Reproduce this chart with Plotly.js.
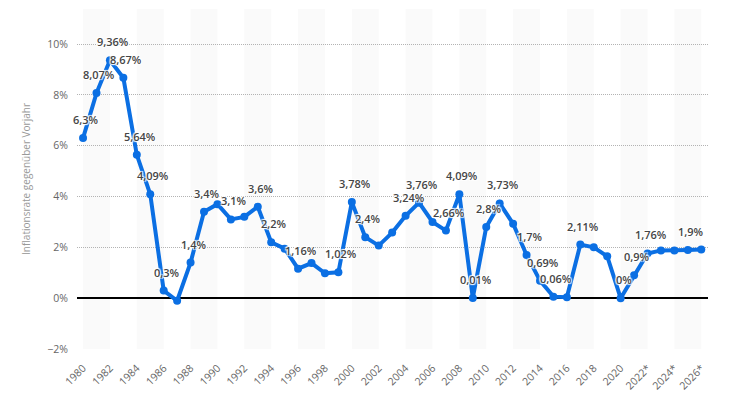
<!DOCTYPE html>
<html>
<head>
<meta charset="utf-8">
<script src="https://cdn.plot.ly/plotly-3.0.1.min.js"></script>
<style>
html,body{margin:0;padding:0;background:#fff;}
#chart{width:737px;height:419px;}
</style>
</head>
<body>
<div id="chart"></div>
<script>
// Data
var years = [1980,1981,1982,1983,1984,1985,1986,1987,1988,1989,1990,1991,1992,1993,1994,1995,1996,1997,1998,1999,2000,2001,2002,2003,2004,2005,2006,2007,2008,2009,2010,2011,2012,2013,2014,2015,2016,2017,2018,2019,2020,2021,2022,2023,2024,2025,2026];
var inflation = [6.3,8.07,9.36,8.67,5.64,4.09,0.3,-0.1,1.4,3.4,3.7,3.1,3.2,3.6,2.2,1.95,1.16,1.38,0.98,1.02,3.78,2.4,2.07,2.58,3.24,3.76,3.0,2.66,4.09,0.01,2.8,3.73,2.93,1.7,0.69,0.06,0.04,2.11,2.0,1.65,0,0.9,1.76,1.88,1.88,1.9,1.92];
var labelYears = [1980,1981,1982,1983,1984,1985,1986,1988,1989,1991,1993,1994,1996,1999,2000,2001,2004,2005,2007,2008,2009,2010,2011,2013,2014,2015,2017,2020,2021,2022,2025];
var labelTexts = ["6,3%","8,07%","9,36%","8,67%","5,64%","4,09%","0,3%","1,4%","3,4%","3,1%","3,6%","2,2%","1,16%","1,02%","3,78%","2,4%","3,24%","3,76%","2,66%","4,09%","0,01%","2,8%","3,73%","1,7%","0,69%","0,06%","2,11%","0%","0,9%","1,76%","1,9%"];
var tickVals = [1980,1982,1984,1986,1988,1990,1992,1994,1996,1998,2000,2002,2004,2006,2008,2010,2012,2014,2016,2018,2020,2022,2024,2026];
var tickTexts = ["1980","1982","1984","1986","1988","1990","1992","1994","1996","1998","2000","2002","2004","2006","2008","2010","2012","2014","2016","2018","2020","2022*","2024*","2026*"];
var yTickVals = [-2,0,2,4,6,8,10];
var yTickTexts = ["\u22122%","0%","2%","4%","6%","8%","10%"];
var bandStarts = [1980,1984,1988,1992,1996,2000,2004,2008,2012,2016,2020,2024];
var yTitle = "Inflationsrate gegenüber Vorjahr";

var blue = "#0b6fe3";
var FONT = "Open Sans, sans-serif";

var shapes = bandStarts.map(function(s){
  return {type:"rect", xref:"x", yref:"paper", x0:s, x1:s+2, y0:0, y1:1,
          fillcolor:"#fafafa", line:{width:0}, layer:"below"};
});

var annotations = labelYears.map(function(yr, i){
  var v = inflation[years.indexOf(yr)];
  return {x:yr, y:v, xref:"x", yref:"y", text:labelTexts[i], showarrow:false,
          xanchor:"center", yanchor:"middle", xshift:3, yshift:18.5,
          font:{family:FONT, size:11, color:"#454545", weight:600,
                shadow:"1px 1px 1px #fff, -1px -1px 1px #fff, 1px -1px 1px #fff, -1px 1px 1px #fff"}};
});

var trace = {
  x: years, y: inflation, type:"scatter", mode:"lines+markers",
  line:{color:blue, width:4},
  marker:{color:blue, size:8},
  hoverinfo:"skip", cliponaxis:false
};

var layout = {
  width:737, height:419,
  margin:{l:77, r:29, t:9, b:70},
  paper_bgcolor:"#fff", plot_bgcolor:"rgba(0,0,0,0)",
  showlegend:false,
  font:{family:FONT, size:10.5, color:"#666"},
  xaxis:{
    range:[1979.55, 2026.5], tickvals:tickVals, ticktext:tickTexts, tickangle:-45,
    showgrid:false, zeroline:false, showline:false, ticks:"outside", ticklen:8, tickcolor:"rgba(0,0,0,0)",
    tickfont:{family:FONT, size:10.5, color:"#666"}, fixedrange:true
  },
  yaxis:{
    range:[-2, 11.38], tickvals:yTickVals, ticktext:yTickTexts,
    showgrid:true, gridcolor:"#b3b3b3", griddash:"1px,1px", gridwidth:1,
    zeroline:true, zerolinecolor:"#000", zerolinewidth:1.5,
    showline:false, ticks:"outside", ticklen:6, tickcolor:"rgba(0,0,0,0)",
    tickfont:{family:FONT, size:10.5, color:"#666"},
    title:{text:yTitle, font:{family:FONT, size:10, color:"#999"}, standoff:14},
    fixedrange:true
  },
  shapes:shapes,
  annotations:annotations
};

Plotly.newPlot("chart", [trace], layout, {displayModeBar:false, staticPlot:true});
</script>
</body>
</html>
